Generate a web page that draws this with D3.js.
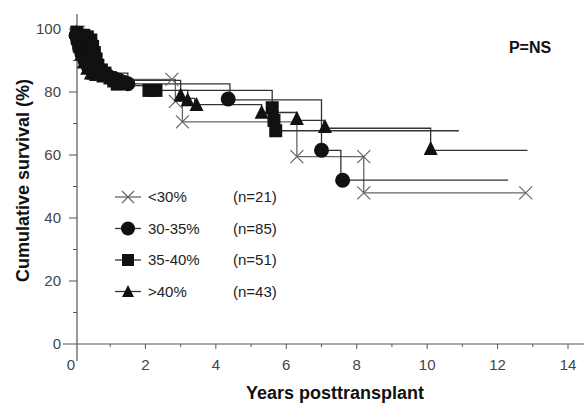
<!DOCTYPE html>
<html>
<head>
<meta charset="utf-8">
<script src="https://cdn.jsdelivr.net/npm/d3@7"></script>
<style>
  body { margin: 0; background: #fff; }
  svg text { font-family: Arial, "Liberation Sans", sans-serif; }
</style>
</head>
<body>
<div class="chart"></div>
<script>
// group labels and sizes
var groups = ['<30%', '30-35%', '35-40%', '>40%'];
var groupN = [21, 85, 51, 43];
var groupShape = ['cross', 'circle', 'square', 'triangle'];

// Kaplan-Meier steps per group: [years, survival %]
var stepsLt30 = [[0, 100], [0.1, 95.2], [0.2, 90.5], [0.35, 84], [2.85, 77], [3.05, 70.5], [6.3, 59.5], [8.2, 48], [12.8, 48]];
var steps3035 = [[0, 100], [0.05, 97], [0.1, 95], [0.15, 93], [0.2, 91], [0.3, 89], [0.4, 87.5], [0.6, 86], [0.9, 85], [1.2, 84], [1.5, 82.6], [4.4, 77.5], [7.0, 61.5], [7.55, 52], [12.3, 52]];
var steps3540 = [[0, 100], [0.05, 98], [0.45, 96], [0.5, 94], [0.55, 92], [0.6, 90], [0.7, 88], [0.8, 86], [1.0, 84.5], [1.2, 82], [2.2, 80.5], [5.6, 75], [5.66, 71], [5.7, 67.7], [10.9, 67.7]];
var stepsGt40 = [[0, 100], [0.05, 97.7], [0.1, 95.3], [0.15, 93], [0.2, 90.7], [0.3, 88.4], [0.4, 86], [1.5, 83.7], [3.0, 80.5], [3.2, 78], [3.4, 76], [5.3, 73.5], [6.3, 71], [7.07, 68.5], [10.1, 61.5], [12.85, 61.5]];

// marker positions per group
var marksLt30 = [[0.1, 99], [0.2, 95], [0.35, 90], [2.75, 84], [2.85, 77], [3.05, 70.5], [6.3, 59.5], [8.2, 59.5], [8.2, 48], [12.8, 48]];
var marks3035 = [[0.03, 98], [0.08, 96], [0.13, 94], [0.2, 92], [0.28, 90], [0.38, 88], [0.5, 87], [0.65, 86], [0.8, 85.5], [0.95, 85], [1.1, 84.3], [1.25, 83.7], [1.4, 83], [1.5, 82.6], [4.35, 77.8], [7.0, 61.5], [7.6, 52]];
var marks3540 = [[0.05, 99], [0.15, 98], [0.25, 98], [0.35, 97.5], [0.45, 96.5], [0.5, 94.5], [0.55, 92.5], [0.6, 90.5], [0.65, 88.5], [0.75, 87], [0.85, 86], [1.0, 84.5], [1.1, 83.5], [1.2, 82.5], [2.1, 80.5], [2.3, 80.5], [5.6, 75], [5.65, 71], [5.7, 67.7]];
var marksGt40 = [[0.03, 99], [0.08, 97], [0.13, 94.5], [0.18, 92], [0.25, 89.5], [0.35, 87.5], [0.45, 86], [0.6, 85.5], [0.8, 85], [1.0, 84.5], [1.2, 84], [3.0, 79], [3.2, 77.5], [3.45, 76], [5.3, 73.5], [6.3, 71.5], [7.1, 69], [10.1, 62]];

var xTicks = [0, 2, 4, 6, 8, 10, 12, 14];
var yTicks = [0, 20, 40, 60, 80, 100];

var allSteps = [stepsLt30, steps3035, steps3540, stepsGt40];
var allMarks = [marksLt30, marks3035, marks3540, marksGt40];

var W = 584, H = 403;
var x = d3.scaleLinear().domain([0, 14]).range([75, 568]);
var y = d3.scaleLinear().domain([0, 100]).range([344, 29]);

var svg = d3.select('.chart').append('svg')
    .attr('width', W)
    .attr('height', H);

// axes
var axisColor = '#555';
var xAxisG = svg.append('g').attr('transform', `translate(0,${y(0)})`);
xAxisG.append('line')
    .attr('x1', 63).attr('x2', W)
    .attr('stroke', axisColor).attr('stroke-width', 1.2);
xAxisG.selectAll('.xt')
    .data(d3.range(1, 15))
    .enter().append('line')
    .attr('x1', d => x(d)).attr('x2', d => x(d))
    .attr('y1', 0).attr('y2', d => d % 2 ? 3 : 5)
    .attr('stroke', axisColor);
xAxisG.selectAll('.xl')
    .data(xTicks)
    .enter().append('text')
    .attr('x', d => x(d) - (d == 0 ? 4 : 0))
    .attr('y', 26)
    .attr('text-anchor', 'middle')
    .attr('font-size', 15)
    .attr('fill', '#444')
    .text(d => d);

var yAxisX = x(0) + 2;
var yAxisG = svg.append('g').attr('transform', `translate(${yAxisX},0)`);
yAxisG.append('line')
    .attr('y1', 14).attr('y2', 361)
    .attr('stroke', axisColor).attr('stroke-width', 1.2);
yAxisG.selectAll('.yt')
    .data(d3.range(10, 101, 10))
    .enter().append('line')
    .attr('y1', d => y(d)).attr('y2', d => y(d))
    .attr('x1', d => d % 20 ? -4 : -8).attr('x2', 0)
    .attr('stroke', axisColor);
yAxisG.selectAll('.yl')
    .data(yTicks)
    .enter().append('text')
    .attr('x', -16)
    .attr('y', d => y(d) + 5)
    .attr('text-anchor', 'end')
    .attr('font-size', 15)
    .attr('fill', '#444')
    .text(d => d);

// axis titles
svg.append('text')
    .attr('x', 335).attr('y', 399)
    .attr('text-anchor', 'middle')
    .attr('font-size', 18).attr('font-weight', 'bold')
    .attr('fill', '#111')
    .text('Years posttransplant');

svg.append('text')
    .attr('transform', `translate(29,${(y(0) + y(100)) / 2 - 6}) rotate(-90)`)
    .attr('text-anchor', 'middle')
    .attr('font-size', 18).attr('font-weight', 'bold')
    .attr('fill', '#111')
    .text('Cumulative survival (%)');

svg.append('text')
    .attr('x', 530).attr('y', 53)
    .attr('text-anchor', 'middle')
    .attr('font-size', 16).attr('font-weight', 'bold')
    .attr('fill', '#111')
    .text('P=NS');

// markers
function drawMark(g, shape, cx, cy, s) {
    if (shape == 'circle') {
        g.append('circle').attr('cx', cx).attr('cy', cy).attr('r', s * 0.5).attr('fill', '#111');
    } else if (shape == 'square') {
        g.append('rect').attr('x', cx - s / 2).attr('y', cy - s / 2)
            .attr('width', s).attr('height', s).attr('fill', '#111');
    } else if (shape == 'triangle') {
        g.append('path')
            .attr('d', `M${cx},${cy - s * 0.55}L${cx + s / 2},${cy + s * 0.45}L${cx - s / 2},${cy + s * 0.45}Z`)
            .attr('fill', '#111');
    } else {
        var h = s / 2;
        g.append('path')
            .attr('d', `M${cx - h},${cy - h}L${cx + h},${cy + h}M${cx - h},${cy + h}L${cx + h},${cy - h}`)
            .attr('stroke', '#666').attr('stroke-width', 1.2).attr('fill', 'none');
    }
}

var line = d3.line()
    .x(d => x(d[0]))
    .y(d => y(d[1]))
    .curve(d3.curveStepAfter);

var plot = svg.append('g');
allSteps.forEach((steps, i) => {
    plot.append('path')
        .datum(steps)
        .attr('d', line)
        .attr('fill', 'none')
        .attr('stroke', i == 0 ? '#666' : '#333')
        .attr('stroke-width', 1.3);
});
allMarks.forEach((marks, i) => {
    var size = [13, 15, 13, 14][i];
    marks.forEach(m => drawMark(plot, groupShape[i], x(m[0]), y(m[1]), size));
});

// legend
var legend = svg.append('g');
groups.forEach((g, i) => {
    var ly = 197 + i * 31.5;
    legend.append('line')
        .attr('x1', 115).attr('x2', 141)
        .attr('y1', ly).attr('y2', ly)
        .attr('stroke', i == 0 ? '#666' : '#333').attr('stroke-width', 1.3);
    drawMark(legend, groupShape[i], 128, ly, i == 1 ? 14 : 12);
    legend.append('text')
        .attr('x', 148).attr('y', ly + 5)
        .attr('font-size', 15).attr('fill', '#222')
        .text(g);
    legend.append('text')
        .attr('x', 233).attr('y', ly + 5)
        .attr('font-size', 15).attr('fill', '#222')
        .text(`(n=${groupN[i]})`);
});
</script>
</body>
</html>
